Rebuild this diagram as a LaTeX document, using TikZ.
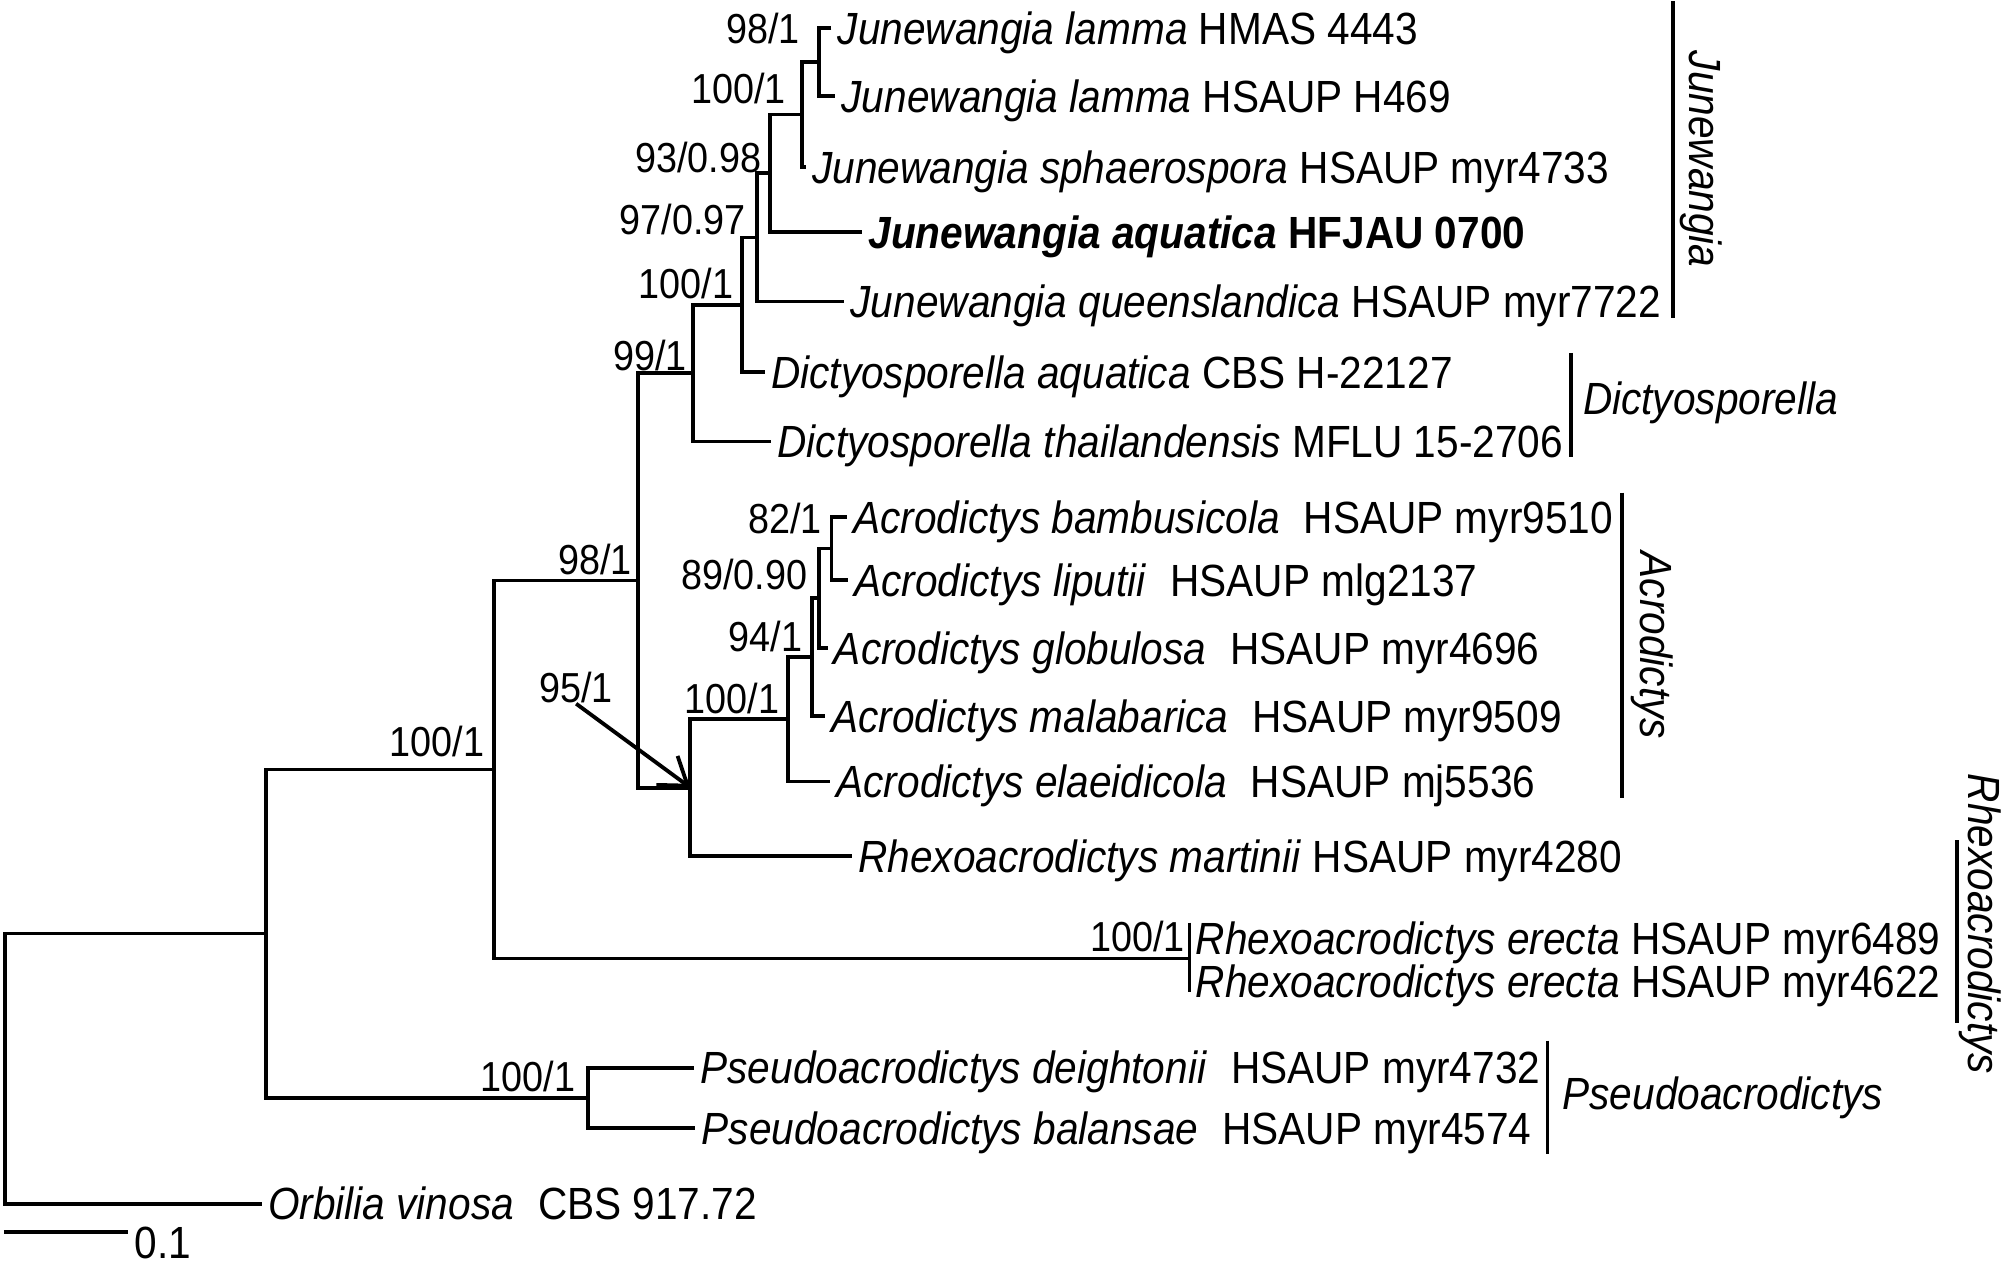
\documentclass[tikz,border=0pt]{standalone}
\usepackage{fontspec}
\setmainfont{Liberation Sans}[FakeStretch=0.9]
\usetikzlibrary{arrows.meta,calc}
\newcommand{\wsp}{\hspace{0.28em}}
\tikzset{
  branch/.style={line width=0.85pt},
  taxon/.style={anchor=west, inner xsep=1.2pt, inner ysep=0pt, text height=7.2pt,
                text depth=0pt, font=\fontsize{10}{12}\selectfont},
  support/.style={anchor=east, inner sep=0pt, text height=6.66pt, text depth=0pt,
                  font=\fontsize{9.3}{11}\selectfont},
  genus/.style={inner sep=0pt, text height=7.2pt, text depth=0pt,
                font=\fontsize{10}{12}\selectfont\itshape},
  pointer/.style={-{Straight Barb[length=2mm,width=2.8mm]}, line width=0.85pt}
}

\begin{document}
\begin{tikzpicture}[x=0.01cm, y=-0.01cm]
  \useasboundingbox (0,0) rectangle (1568,993);
  % internal nodes
  \coordinate (root) at (4,832.7);
  \coordinate (ing) at (207,727.5);
  \coordinate (n9) at (385,599.7);
  \coordinate (n7) at (497,452.4);
  \coordinate (n6) at (540,291);
  \coordinate (n5) at (578,237.5);
  \coordinate (n4) at (590,185.1);
  \coordinate (n3) at (600,135.1);
  \coordinate (n2) at (625,89.25);
  \coordinate (n1) at (638,48.5);
  \coordinate (n8) at (538,613.8);
  \coordinate (n10) at (614,560.6);
  \coordinate (n11) at (633,512.1);
  \coordinate (n12) at (638,466.25);
  \coordinate (n13) at (648,427.5);
  \coordinate (ne) at (927,747);
  \coordinate (np) at (458,855.5);
  % taxa
  \node[taxon] (t1) at (648,22) {\textit{Junewangia lamma} HMAS 4443};
  \node[taxon] (t2) at (651,75) {\textit{Junewangia lamma} HSAUP H469};
  \node[taxon] (t3) at (628,130) {\textit{Junewangia sphaerospora} HSAUP myr4733};
  \node[taxon] (t4) at (672,181) {\textbf{\textit{Junewangia aquatica} HFJAU 0700}};
  \node[taxon] (t5) at (658,235) {\textit{Junewangia queenslandica} HSAUP myr7722};
  \node[taxon] (t6) at (596,290) {\textit{Dictyosporella aquatica} CBS H-22127};
  \node[taxon] (t7) at (601,344) {\textit{Dictyosporella thailandensis} MFLU 15-2706};
  \node[taxon] (t8) at (660,403) {\textit{Acrodictys bambusicola}\wsp{} HSAUP myr9510};
  \node[taxon] (t9) at (661,452) {\textit{Acrodictys liputii}\wsp{} HSAUP mlg2137};
  \node[taxon] (t10) at (645,505) {\textit{Acrodictys globulosa}\wsp{} HSAUP myr4696};
  \node[taxon] (t11) at (643,558) {\textit{Acrodictys malabarica}\wsp{} HSAUP myr9509};
  \node[taxon] (t12) at (647,609) {\textit{Acrodictys elaeidicola}\wsp{} HSAUP mj5536};
  \node[taxon] (t13) at (664,667) {\textit{Rhexoacrodictys martinii} HSAUP myr4280};
  \node[taxon] (t14) at (927,731) {\textit{Rhexoacrodictys erecta} HSAUP myr6489};
  \node[taxon] (t15) at (927,765) {\textit{Rhexoacrodictys erecta} HSAUP myr4622};
  \node[taxon] (t16) at (541,832) {\textit{Pseudoacrodictys deightonii}\wsp{} HSAUP myr4732};
  \node[taxon] (t17) at (542,879) {\textit{Pseudoacrodictys balansae}\wsp{} HSAUP myr4574};
  \node[taxon] (t18) at (204,938) {\textit{Orbilia vinosa}\wsp{} CBS 917.72};
  % branches
  \draw[branch] (t1.west) -| (n1) |- (t2.west);
  \draw[branch] (n1) -| (n2) |- (t3.west);
  \draw[branch] (n2) -| (n3) |- (t4.west);
  \draw[branch] (n3) -| (n4) |- (t5.west);
  \draw[branch] (n4) -| (n5) |- (t6.west);
  \draw[branch] (n5) -| (n6) |- (t7.west);
  \draw[branch] (n6) -| (n7) |- (n8);
  \draw[branch] (t8.west) -| (n13) |- (t9.west);
  \draw[branch] (n13) -| (n12) |- (t10.west);
  \draw[branch] (n12) -| (n11) |- (t11.west);
  \draw[branch] (n11) -| (n10) |- (t12.west);
  \draw[branch] (n10) -| (n8) |- (t13.west);
  \draw[branch] (n7) -| (n9) |- (ne);
  \draw[branch] (ne) ++(0,-28) -- ++(0,54);
  \draw[branch] (t16.west) -| (np) |- (t17.west);
  \draw[branch] (n9) -| (ing) |- (np);
  \draw[branch] (ing) -| (root) |- (t18.west);
  % support values
  \node[support] (b1) at (624,22) {98/1};
  \node[support] (b2) at (613,69) {100/1};
  \node[support] (b3) at (594,123) {93/0.98};
  \node[support] (b4) at (582,171) {97/0.97};
  \node[support] (b5) at (572,221) {100/1};
  \node[support] (b6) at (536,277) {99/1};
  \node[support] (b7) at (493,436) {98/1};
  \node[support, anchor=center] (b8) at (449,536) {95/1};
  \node[support] (b9) at (378,578) {100/1};
  \node[support] (b10) at (608,544) {100/1};
  \node[support] (b11) at (626,496) {94/1};
  \node[support] (b12) at (630,448) {89/0.90};
  \node[support] (b13) at (641,404) {82/1};
  \node[support] (b14) at (924,730) {100/1};
  \node[support] (b15) at (449,839) {100/1};
  \draw[pointer] (b8.south) -- (n8);
  % clades
  \draw[branch] (1304,1) -- (1304,248);
  \node[genus, rotate=-90] (gJ) at (1329,124) {Junewangia};
  \draw[branch] (1224,275) -- (1224,356);
  \node[genus, anchor=west] (gD) at (1233,310) {Dictyosporella};
  \draw[branch] (1264,384) -- (1264,622);
  \node[genus, rotate=-90] (gA) at (1291,503) {Acrodictys};
  \draw[branch] (1525,655) -- (1525,797);
  \node[genus, rotate=-90] (gR) at (1547,720) {Rhexoacrodictys};
  \draw[branch] (1206,811) -- (1206,899);
  \node[genus, anchor=west] (gP) at (1217,852) {Pseudoacrodictys};
  % scale
  \coordinate (s0) at (3,960);
  \coordinate (s1) at (100,960);
  \draw[branch] (s0) -- (s1);
  \node[taxon] (sl) at (s1 |- 0,968) {0.1};
\end{tikzpicture}
\end{document}
